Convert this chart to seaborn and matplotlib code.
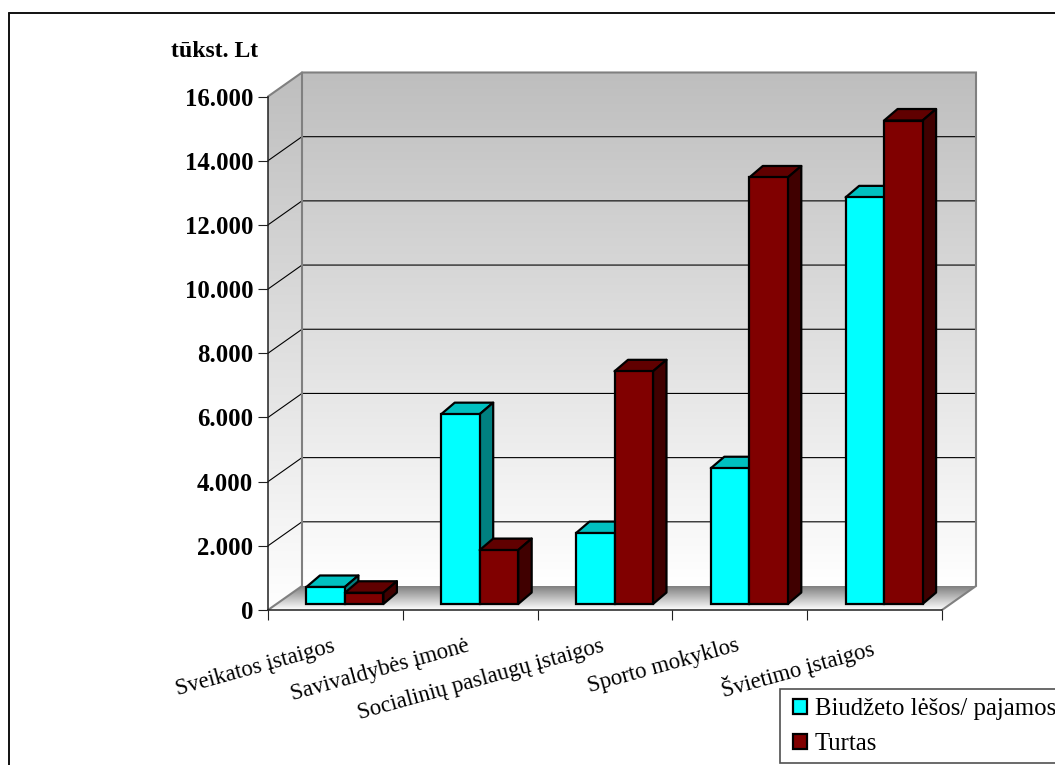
import numpy as np
import pandas as pd
import seaborn as sns
import matplotlib
matplotlib.use("Agg")
import matplotlib.pyplot as plt
from matplotlib.colors import LinearSegmentedColormap
from matplotlib.lines import Line2D
from matplotlib.patches import Polygon, Rectangle
from matplotlib.transforms import Affine2D, IdentityTransform

categories = ["Sveikatos įstaigos", "Savivaldybės įmonė", "Socialinių paslaugų įstaigos",
              "Sporto mokyklos", "Švietimo įstaigos"]
budget_label = "Biudžeto lėšos/ pajamos"
assets_label = "Turtas"
budget = [530, 5915, 2210, 4230, 12670]
assets = [350, 1680, 7250, 13290, 15065]
y_ticks = [0, 2000, 4000, 6000, 8000, 10000, 12000, 14000, 16000]
y_tick_labels = ["0", "2.000", "4.000", "6.000", "8.000", "10.000", "12.000", "14.000", "16.000"]
unit_label = "tūkst. Lt"

W, H = 1055, 765
WALL_DEPTH = (34, 24)      # px offset of the back wall from the front plane
BAR_SHIFT = (9.5, 6)       # px offset of the bars' front faces from the front plane
BAR_DEPTH = (13.5, 11.5)   # px depth of each bar
BAR_EDGE = 1.6

sns.set_theme(style="white")
plt.rcParams["font.family"] = ["Liberation Serif", "DejaVu Serif"]

fig = plt.figure(figsize=(W / 100, H / 100), dpi=100, facecolor="white")
ax = fig.add_axes([268 / W, 1 - 610 / H, (942 - 268) / W, (610 - 96.5) / H])
ax.patch.set_visible(False)

df = pd.DataFrame({
    "category": categories * 2,
    "series": [budget_label] * len(categories) + [assets_label] * len(categories),
    "value": budget + assets,
})
sns.barplot(data=df, x="category", y="value", hue="series", order=categories,
            hue_order=[budget_label, assets_label],
            palette={budget_label: "#00FFFF", assets_label: "#800000"},
            saturation=1, width=0.571, gap=0, edgecolor="black", linewidth=BAR_EDGE, ax=ax)
ax.set_xlim(-0.5, len(categories) - 0.5)
ax.set_ylim(y_ticks[0], y_ticks[-1])
ax.set_xlabel("")
ax.set_ylabel("")

to_px = ax.transData.transform
identity = IdentityTransform()
(x0, y0), (x1, y1) = to_px((-0.5, 0)), to_px((len(categories) - 0.5, y_ticks[-1]))
dx, dy = WALL_DEPTH


def gradient_fill(corners, top_colour, bottom_colour):
    """Fill a pixel-space polygon with a vertical colour ramp."""
    corners = np.asarray(corners)
    cmap = LinearSegmentedColormap.from_list("ramp", [top_colour, bottom_colour])
    left, bottom = corners.min(axis=0)
    right, top = corners.max(axis=0)
    im = ax.imshow(np.linspace(0, 1, 256).reshape(-1, 1), cmap=cmap, aspect="auto",
                   extent=(left, right, bottom, top), origin="upper",
                   transform=identity, zorder=0.1)
    im.set_clip_path(Polygon(corners, transform=identity))
    im.set_clip_box(fig.bbox)


# Walls and floor
back_wall = [(x0 + dx, y0 + dy), (x1 + dx, y0 + dy), (x1 + dx, y1 + dy), (x0 + dx, y1 + dy)]
side_wall = [(x0, y0), (x0 + dx, y0 + dy), (x0 + dx, y1 + dy), (x0, y1)]
floor = [(x0, y0), (x1, y0), (x1 + dx, y0 + dy), (x0 + dx, y0 + dy)]
gradient_fill(back_wall, "#BEBEBE", "#FFFFFF")
gradient_fill(side_wall, "#BEBEBE", "#FFFFFF")
gradient_fill(floor, "#7F7F7F", "#FFFFFF")
ax.set_xlim(-0.5, len(categories) - 0.5)
ax.set_ylim(y_ticks[0], y_ticks[-1])

# Gridlines run along the side wall and across the back wall
for tick in y_ticks[1:-1]:
    _, yp = to_px((0, tick))
    ax.add_line(Line2D([x0, x0 + dx, x1 + dx], [yp, yp + dy, yp + dy], color="black", lw=0.8,
                       transform=identity, zorder=0.5, clip_on=False))

wall_edge = dict(color="#808080", lw=1.5, transform=identity, zorder=0.6, clip_on=False,
                 solid_joinstyle="miter")
ax.add_line(Line2D([x0, x0 + dx, x1 + dx, x1 + dx, x1],
                   [y1, y1 + dy, y1 + dy, y0 + dy, y0], **wall_edge))
ax.add_line(Line2D([x0, x0 + dx, x0 + dx], [y0, y0 + dy, y1 + dy], **wall_edge))

# Extrude each bar: front face from seaborn, top and side faces in shaded tones
face_shades = [("#00C0C0", "#008080"), ("#600000", "#400000")]
shift = ax.transData + Affine2D().translate(*BAR_SHIFT)
ddx, ddy = BAR_DEPTH
for series_idx, container in enumerate(ax.containers):
    top_colour, side_colour = face_shades[series_idx]
    for cat_idx, bar in enumerate(container):
        order = 2 + cat_idx + 0.1 * series_idx
        bar.set_transform(shift)
        bar.set_clip_on(False)
        bar.set_zorder(order + 0.02)
        (bx0, by0), (bx1, by1) = shift.transform(
            [(bar.get_x(), 0), (bar.get_x() + bar.get_width(), bar.get_height())])
        common = dict(transform=identity, edgecolor="black", lw=BAR_EDGE, clip_on=False,
                      zorder=order, joinstyle="round")
        ax.add_patch(Polygon([(bx0, by1), (bx1, by1), (bx1 + ddx, by1 + ddy), (bx0 + ddx, by1 + ddy)],
                             facecolor=top_colour, **common))
        ax.add_patch(Polygon([(bx1, by0), (bx1 + ddx, by0 + ddy), (bx1 + ddx, by1 + ddy), (bx1, by1)],
                             facecolor=side_colour, **common))

# Axes
sns.despine(ax=ax, top=True, right=True)
for side in ("left", "bottom"):
    ax.spines[side].set_color("#202020")
    ax.spines[side].set_linewidth(1.1)
ax.set_yticks(y_ticks, labels=y_tick_labels)
ax.tick_params(axis="y", which="major", left=True, length=7.2, width=0.8, color="#202020", pad=3.5,
               labelsize=17.8, labelcolor="black")
for label in ax.get_yticklabels():
    label.set_fontweight("bold")
ax.set_xticks(np.arange(-0.5, len(categories)), labels=[""] * (len(categories) + 1))
ax.tick_params(axis="x", which="major", bottom=True, length=7.2, width=0.8, color="#202020")
ax.set_xticks(np.arange(len(categories)), labels=categories, minor=True)
ax.tick_params(axis="x", which="minor", bottom=False, length=0, pad=19, labelsize=16.4,
               labelcolor="black")
nudge = Affine2D().translate(-4, 1)
for label in ax.get_xticklabels(minor=True):
    label.set(rotation=15.5, ha="right", va="top", rotation_mode="anchor")
    label.set_transform(label.get_transform() + nudge)

fig.text(171 / W, 1 - 57 / H, unit_label, fontsize=17.1, fontweight="bold", color="black")

# Outer chart border
for xs, ys in (([9 / W, 9 / W], [0, 1 - 12.5 / H]), ([9 / W, 1], [1 - 12.5 / H, 1 - 12.5 / H])):
    fig.add_artist(Line2D(xs, ys, color="#101010", lw=1.4, transform=fig.transFigure))

# Legend box runs off the right-hand side of the chart area
fig.add_artist(Rectangle((780 / W, 1 - 762.5 / H), 300 / W, 73.5 / H, transform=fig.transFigure,
                         facecolor="white", edgecolor="#505050", lw=1.2, zorder=-1))
handles, labels = ax.get_legend_handles_labels()
legend = ax.legend(handles, labels, loc="lower left", bbox_to_anchor=(793 / W, 1 - 755 / H),
                   bbox_transform=fig.transFigure, frameon=False, fontsize=17.8, labelcolor="black",
                   handlelength=0.56, handleheight=0.56, handletextpad=0.32, labelspacing=0.52,
                   borderpad=0, borderaxespad=0)
legend.set_zorder(20)
for handle in legend.legend_handles:
    handle.set_edgecolor("black")
    handle.set_linewidth(BAR_EDGE)

fig.savefig("out.png", dpi=100, facecolor="white")
